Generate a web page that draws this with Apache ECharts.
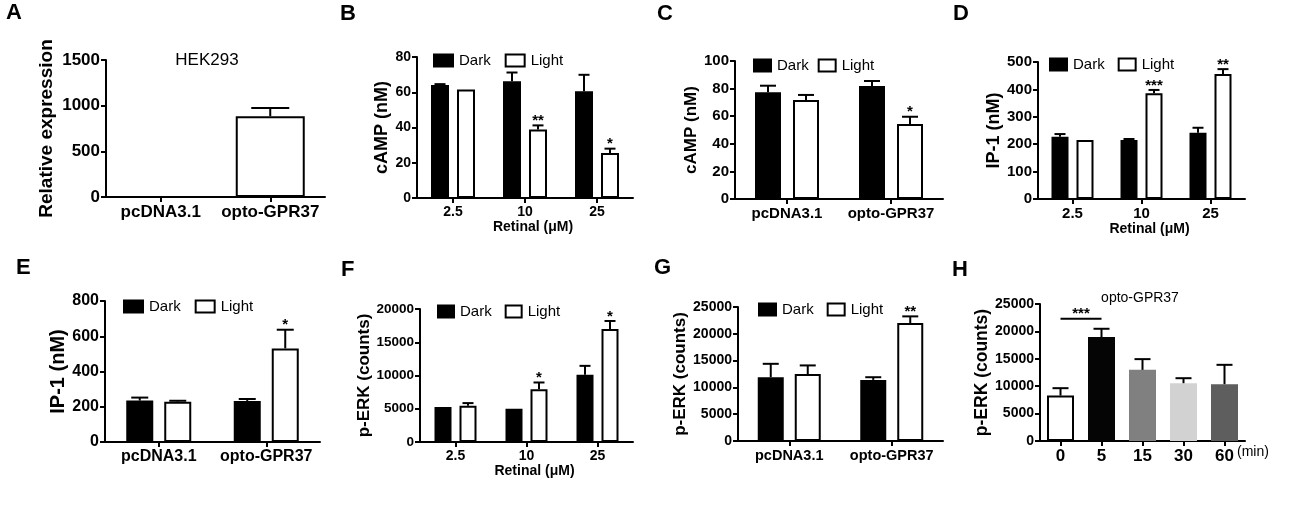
<!DOCTYPE html>
<html><head><meta charset="utf-8">
<script src="https://cdn.jsdelivr.net/npm/echarts@6/dist/echarts.min.js"></script>
<style>html,body{margin:0;padding:0;background:#fff}#c{width:1300px;height:513px}</style>
</head><body><div id="c"></div>
<script>
// ---------- DATA ----------
// Panel A
const aCats = ['pcDNA3.1', 'opto-GPR37'];
const aVals = [0, 885];
const aErr = [0, 90];
// Panel B
const retinalCats = ['2.5', '10', '25'];
const bDark = [64.1, 66.2, 60.6];
const bDarkErr = [0.5, 5, 9.3];
const bLight = [61.6, 38.8, 25.5];
const bLightErr = [0.3, 2.4, 2.5];
const bLightSig = ['', '**', '*'];
// Panel C
const plasmidCats = ['pcDNA3.1', 'opto-GPR37'];
const cDark = [77.3, 81.9];
const cDarkErr = [4.8, 3.6];
const cLight = [71.7, 54.3];
const cLightErr = [3.7, 5.3];
const cLightSig = ['', '*'];
// Panel D
const dDark = [227, 215, 242];
const dDarkErr = [10, 4, 18];
const dLight = [215, 386, 456];
const dLightErr = [2, 12, 18];
const dLightSig = ['', '***', '**'];
// Panel E
const eDark = [235, 233];
const eDarkErr = [17, 11];
const eLight = [229, 531];
const eLightErr = [5, 106];
const eLightSig = ['', '*'];
// Panel F
const fDark = [5250, 5000, 10100];
const fDarkErr = [80, 80, 1350];
const fLight = [5450, 7950, 17000];
const fLightErr = [400, 1000, 1200];
const fLightSig = ['', '*', '*'];
// Panel G
const gDark = [11900, 11400];
const gDarkErr = [2500, 500];
const gLight = [12500, 22000];
const gLightErr = [1600, 1250];
const gLightSig = ['', '**'];
// Panel H
const hCats = ['0', '5', '15', '30', '60'];
const hVals = [8290, 18960, 12980, 10550, 10370];
const hErr = [1350, 1520, 1960, 910, 3530];
const hColors = ['#ffffff', '#050505', '#808080', '#d2d2d2', '#5e5e5e'];
const hSigPair = [0, 1];
const hSigLevel = 22300;
const hSigText = '***';

// ---------- LAYOUT ----------
const FONT = 'Arial, "Liberation Sans", Helvetica, sans-serif';
const panels = [
  {key:'A', grid:[106, 60, 219, 137], cats:aCats, max:1500, interval:500, yFs:17, xFs:17, name:'Relative expression', nameFs:19, nameGap:50},
  {key:'B', grid:[417, 57, 216, 141], cats:retinalCats, max:80, interval:20, yFs:14, xFs:14, name:'cAMP (nM)', nameFs:18, nameGap:21, xName:'Retinal (μM)'},
  {key:'C', grid:[735, 61, 208, 138], cats:plasmidCats, max:100, interval:20, yFs:15, xFs:15, name:'cAMP (nM)', nameFs:17, nameGap:35},
  {key:'D', grid:[1038, 62, 207, 137], cats:retinalCats, max:500, interval:100, yFs:15, xFs:15, name:'IP-1 (nM)', nameFs:18, nameGap:33, xName:'Retinal (μM)'},
  {key:'E', grid:[105, 301, 215, 141], cats:plasmidCats, max:800, interval:200, yFs:16, xFs:16, name:'IP-1 (nM)', nameFs:20, nameGap:37},
  {key:'F', grid:[420, 309, 213, 133], cats:retinalCats, max:20000, interval:5000, yFs:13.5, xFs:14, name:'p-ERK (counts)', nameFs:17, nameGap:45, xName:'Retinal (μM)'},
  {key:'G', grid:[738, 307, 205, 134], cats:plasmidCats, max:25000, interval:5000, yFs:14, xFs:14.5, name:'p-ERK (counts)', nameFs:17, nameGap:46},
  {key:'H', grid:[1040, 304, 205, 137], cats:hCats, max:25000, interval:5000, yFs:14, xFs:17, name:'p-ERK (counts)', nameFs:17.5, nameGap:48}
];

const grids = [], xAxes = [], yAxes = [], series = [], legends = [];
panels.forEach((p, i) => {
  grids.push({left:p.grid[0], top:p.grid[1], width:p.grid[2], height:p.grid[3], containLabel:false, outerBoundsMode:'none'});
  xAxes.push({
    gridIndex:i, type:'category', data:p.cats,
    axisLine:{show:true, lineStyle:{color:'#000', width:2}},
    axisTick:{show:true, alignWithLabel:true, length:5, lineStyle:{color:'#000', width:2}},
    axisLabel:{color:'#000', fontWeight:'bold', fontSize:p.xFs, fontFamily:FONT, margin:7, interval:0},
    splitLine:{show:false},
    name:p.xName || '', nameLocation:'middle', nameGap:21,
    nameTextStyle:{color:'#000', fontWeight:'bold', fontSize:14, fontFamily:FONT, padding:[0,0,0,16]}
  });
  yAxes.push({
    gridIndex:i, type:'value', min:0, max:p.max, interval:p.interval,
    axisLine:{show:true, lineStyle:{color:'#000', width:2}},
    axisTick:{show:true, length:5, lineStyle:{color:'#000', width:2}},
    axisLabel:{color:'#000', fontWeight:'bold', fontSize:p.yFs, fontFamily:FONT, margin:6, formatter:v => String(v)},
    splitLine:{show:false},
    name:p.name, nameLocation:'middle', nameGap:p.nameGap,
    nameTextStyle:{color:'#000', fontWeight:'bold', fontSize:p.nameFs, fontFamily:FONT}
  });
});

function errSeries(gi, vals, errs, offset, capW, sig, sigFs) {
  return {
    type:'custom', xAxisIndex:gi, yAxisIndex:gi, z:5, silent:true,
    data: vals.map((v, k) => [k, v, v + errs[k]]),
    renderItem(params, api) {
      const k = api.value(0);
      const p0 = api.coord([k, api.value(1)]);
      const p1 = api.coord([k, api.value(2)]);
      const x = p0[0] + offset;
      const ch = [];
      if (p0[1] - p1[1] > 0.8) {
        ch.push({type:'line', shape:{x1:x, y1:p0[1], x2:x, y2:p1[1]}, style:{stroke:'#000', lineWidth:2}});
        ch.push({type:'line', shape:{x1:x - capW/2, y1:p1[1], x2:x + capW/2, y2:p1[1]}, style:{stroke:'#000', lineWidth:2}});
      }
      const s = sig ? sig[params.dataIndex] : '';
      if (s) ch.push({type:'text', style:{text:s, x:x, y:p1[1] + 3, align:'center', verticalAlign:'bottom', font:'bold ' + (sigFs || 15) + 'px ' + FONT, fill:'#000'}});
      return {type:'group', children:ch};
    }
  };
}

const darkStyle = {color:'#000', borderColor:'#000', borderWidth:2};
const lightStyle = {color:'#fff', borderColor:'#000', borderWidth:2};

function pairPanel(gi, dark, darkErr, light, lightErr, sig, bw, gap, legendPos, legendGap, legendFs, iconW) {
  series.push({type:'bar', name:'Dark', xAxisIndex:gi, yAxisIndex:gi, data:dark, barWidth:bw, barGap:(gap/bw*100)+'%', itemStyle:darkStyle});
  series.push({type:'bar', name:'Light', xAxisIndex:gi, yAxisIndex:gi, data:light, barWidth:bw, barGap:(gap/bw*100)+'%', itemStyle:lightStyle});
  const off = (bw + gap) / 2;
  const cap = Math.round(bw * 0.62);
  series.push(errSeries(gi, dark, darkErr, -off, cap, null));
  series.push(errSeries(gi, light, lightErr, off, cap, sig));
  legends.push({
    left:legendPos[0], top:legendPos[1], padding:0, itemGap:legendGap, itemWidth:iconW || 18, itemHeight:12,
    icon:'rect', selectedMode:false,
    textStyle:{color:'#000', fontSize:legendFs || 15, fontFamily:FONT, padding:[0,0,0,1]},
    data:[{name:'Dark', itemStyle:darkStyle}, {name:'Light', itemStyle:lightStyle}]
  });
}

// Panel A
series.push({type:'bar', name:'HEK293', xAxisIndex:0, yAxisIndex:0, data:aVals, barWidth:69, itemStyle:lightStyle});
series.push(errSeries(0, aVals, aErr, 0, 38, null));
// B..G
pairPanel(1, bDark, bDarkErr, bLight, bLightErr, bLightSig, 18, 8, [433, 53], 14, 15, 19);
pairPanel(2, cDark, cDarkErr, cLight, cLightErr, cLightSig, 26, 12, [753, 58], 9, 15, 17);
pairPanel(3, dDark, dDarkErr, dLight, dLightErr, dLightSig, 17, 8, [1049, 57], 13, 15, 17);
pairPanel(4, eDark, eDarkErr, eLight, eLightErr, eLightSig, 27, 11, [123, 299], 14, 15, 19);
pairPanel(5, fDark, fDarkErr, fLight, fLightErr, fLightSig, 17, 8, [437, 304], 13, 15, 16);
pairPanel(6, gDark, gDarkErr, gLight, gLightErr, gLightSig, 26, 11, [758, 302], 13, 15, 17);
// Panel H
series.push({type:'bar', name:'opto-GPR37', xAxisIndex:7, yAxisIndex:7, barWidth:27,
  data:hVals.map((v, k) => ({value:v, itemStyle:{color:hColors[k], borderColor: k === 0 ? '#000' : hColors[k], borderWidth:2}}))});
series.push(errSeries(7, hVals, hErr, 0, 16, null));
series.push({
  type:'custom', xAxisIndex:7, yAxisIndex:7, z:6, silent:true,
  data:[[hSigPair[0], hSigPair[1], hSigLevel]],
  renderItem(params, api) {
    const a = api.coord([api.value(0), api.value(2)]);
    const b = api.coord([api.value(1), api.value(2)]);
    return {type:'group', children:[
      {type:'line', shape:{x1:a[0], y1:a[1], x2:b[0], y2:b[1]}, style:{stroke:'#000', lineWidth:2}},
      {type:'text', style:{text:hSigText, x:(a[0] + b[0]) / 2, y:a[1] + 3, align:'center', verticalAlign:'bottom', font:'bold 15px ' + FONT, fill:'#000'}}
    ]};
  }
});

// Static texts (panel letters, titles)
const letters = [['A',6,2],['B',340,3],['C',657,3],['D',953,3],['E',16,257],['F',341,259],['G',654,257],['H',952,259]];
const graphics = letters.map(l => ({type:'text', x:l[1], y:l[2], style:{text:l[0], font:'bold 22px ' + FONT, fill:'#000', align:'left', verticalAlign:'top'}}));
graphics.push({type:'text', x:207, y:60, style:{text:'HEK293', font:'17px ' + FONT, fill:'#000', align:'center', verticalAlign:'middle'}});
graphics.push({type:'text', x:1140, y:298, style:{text:'opto-GPR37', font:'14px ' + FONT, fill:'#000', align:'center', verticalAlign:'middle'}});
graphics.push({type:'text', x:1237, y:452, style:{text:'(min)', font:'14px ' + FONT, fill:'#000', align:'left', verticalAlign:'middle'}});

const chart = echarts.init(document.getElementById('c'), null, {renderer:'canvas'});
chart.setOption({
  backgroundColor:'#fff',
  animation:false,
  grid:grids, xAxis:xAxes, yAxis:yAxes, series:series, legend:legends, graphic:graphics
});
</script></body></html>
